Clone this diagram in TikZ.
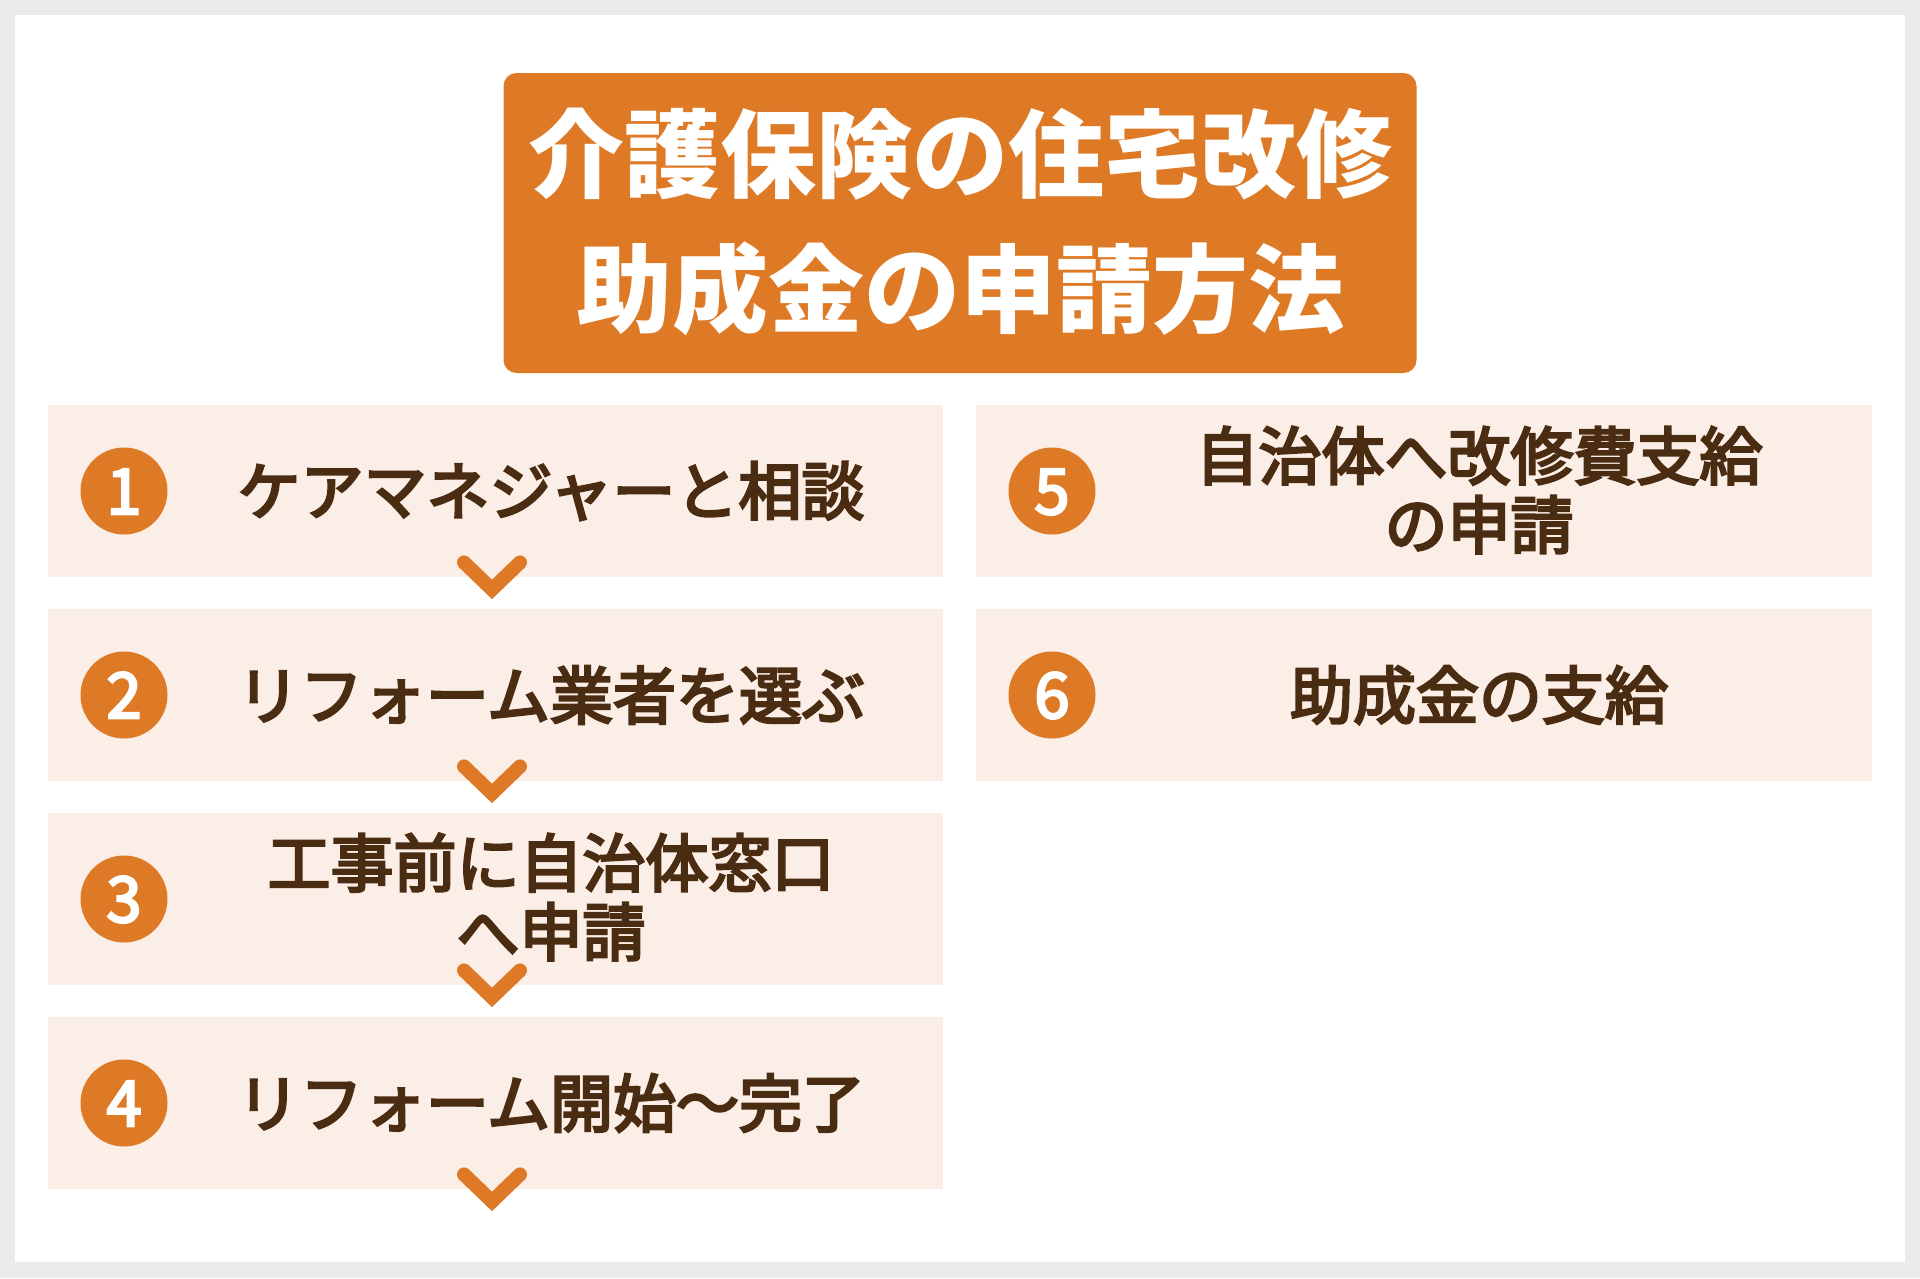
\documentclass[tikz,border=0pt]{standalone}
\usepackage{fontspec}
\setmainfont{Noto Sans CJK JP}
\newfontfamily\jpmed{Noto Sans CJK JP}[FakeBold=4]
\usetikzlibrary{calc}
\definecolor{bggrey}{HTML}{EBEBEB}
\definecolor{accent}{HTML}{DE7A26}
\definecolor{stepfill}{HTML}{FBEEE6}
\definecolor{stepink}{HTML}{4A2C12}
\tikzset{
  x=1pt, y=-1pt,
  stepbox/.style={draw=none, fill=stepfill, minimum width=895pt, minimum height=172pt, inner sep=0pt, anchor=north west},
  numdisc/.style={circle, fill=accent, minimum size=87pt, inner sep=0pt, text=white,
    font=\fontsize{63}{63}\selectfont\jpmed, text height=46pt, text depth=0pt},
  steptext/.style={text=stepink, align=center, inner sep=0pt,
    font=\fontsize{63}{69}\selectfont\jpmed},
  titlebox/.style={fill=accent, rounded corners=13pt, minimum width=913pt, minimum height=300pt, inner sep=0pt},
  titletext/.style={text=white, align=center, inner sep=0pt, font=\fontsize{96}{135}\selectfont\bfseries},
  chev/.style={draw=accent, line width=14pt, line cap=round, line join=miter}
}
\begin{document}
\begin{tikzpicture}
\useasboundingbox (0,0) rectangle (1920,1278);
\fill[bggrey] (0,0) rectangle (1920,1278);
\fill[white] (15,15) rectangle (1905,1262);
% title
\node[titlebox] (title) at (960,223) {};
\node[titletext] (titlet) at (960,222) {介護保険の住宅改修\\助成金の申請方法};
% left column boxes
\node[stepbox] (s1) at (48,405) {};
\node[stepbox] (s2) at (48,609) {};
\node[stepbox] (s3) at (48,813) {};
\node[stepbox] (s4) at (48,1017) {};
% right column boxes
\node[stepbox, minimum width=896pt] (s5) at (976,405) {};
\node[stepbox, minimum width=896pt] (s6) at (976,609) {};
% numbers
\node[numdisc] (n1) at (124,491) {1};
\node[numdisc] (n2) at (124,695) {2};
\node[numdisc] (n3) at (124,899) {3};
\node[numdisc] (n4) at (124,1103) {4};
\node[numdisc] (n5) at (1052,491) {5};
\node[numdisc] (n6) at (1052,695) {6};
% texts
\node[steptext] (t1) at (551,491) {ケアマネジャーと相談};
\node[steptext] (t2) at (551,695) {リフォーム業者を選ぶ};
\node[steptext] (t3) at (551,897) {工事前に自治体窓口\\へ申請};
\node[steptext] (t4) at (551,1103) {リフォーム開始〜完了};
\node[steptext] (t5) at (1479,490) {自治体へ改修費支給\\の申請};
\node[steptext] (t6) at (1479,695) {助成金の支給};
% chevrons
\foreach \s/\cx in {s1/492,s2/492,s3/492,s4/492,s5/1412}{
  \draw[chev] ($(\s.south west)+(\cx-48-28,-15)$) coordinate (\s-a)
     -- ++(28,27) coordinate (\s-tip) -- ++(28,-27) coordinate (\s-b);
}
\end{tikzpicture}
\end{document}
